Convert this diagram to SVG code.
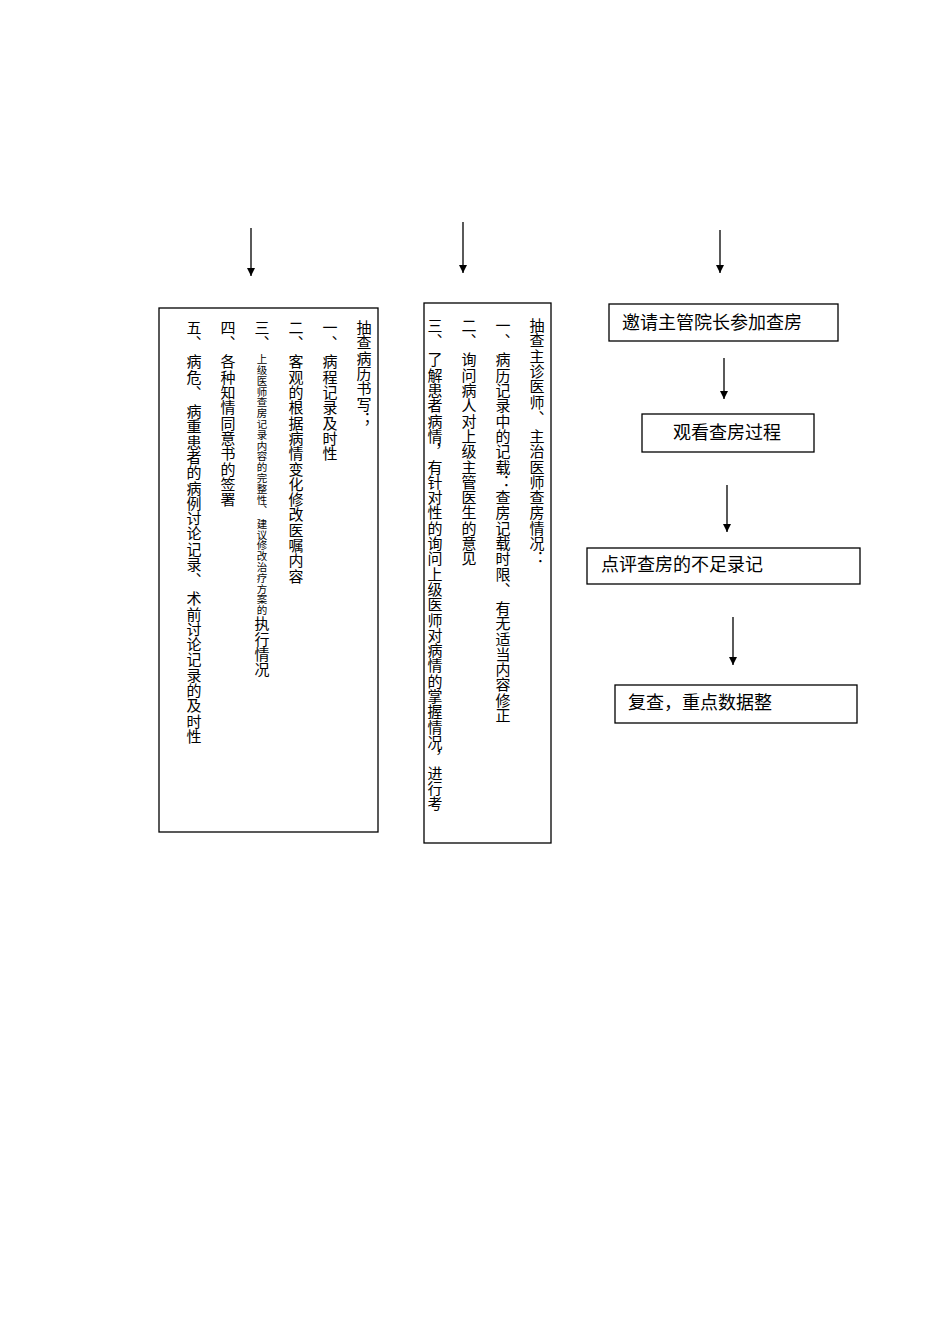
<svg xmlns="http://www.w3.org/2000/svg" width="950" height="1344" viewBox="0 0 950 1344">
<style>
.b{fill:#fff;stroke:#000;stroke-width:1.3}
.v{writing-mode:vertical-rl;font-family:"Noto Sans CJK SC",sans-serif;font-size:15px;fill:#000;letter-spacing:0.3px}
.h{font-family:"Noto Sans CJK SC",sans-serif;font-size:18px;fill:#000}
.c{stroke:#000;stroke-width:1.3;marker-end:url(#a)}
</style>
<defs><marker id="a" viewBox="0 0 10 10" refX="10" refY="5" markerWidth="8" markerHeight="8" markerUnits="userSpaceOnUse" orient="auto"><path d="M0,0L10,5L0,10z" fill="#000"/></marker></defs>
<rect width="950" height="1344" fill="#fff"/>
<g id="connectors">
<line class="c" x1="251" y1="228" x2="251" y2="276"/>
<line class="c" x1="463" y1="222" x2="463" y2="273"/>
<line class="c" x1="720" y1="230" x2="720" y2="273"/>
<line class="c" x1="724" y1="358" x2="724" y2="399"/>
<line class="c" x1="727" y1="485" x2="727" y2="532"/>
<line class="c" x1="733" y1="617" x2="733" y2="665"/>
</g>
<g id="n1">
<rect class="b" x="159" y="308" width="219" height="524"/>
<text class="v" x="364" y="320">抽查病历书写；</text>
<text class="v" x="330" y="320">一、 病程记录及时性</text>
<text class="v" x="296" y="320">二、 客观的根据病情变化修改医嘱内容</text>
<text class="v" x="262" y="320">三、 <tspan style="font-size:10.5px">上级医师查房记录内容的完整性、 建议修改治疗方案的</tspan>执行情况</text>
<text class="v" x="228" y="320">四、 各种知情同意书的签署</text>
<text class="v" x="194" y="320">五、 病危、 病重患者的病例讨论记录、 术前讨论记录的及时性</text>
</g>
<g id="n2">
<rect class="b" x="424" y="303" width="127" height="540"/>
<text class="v" x="537" y="318">抽查主诊医师、 主治医师查房情况：</text>
<text class="v" x="503" y="318">一、 病历记录中的记载：查房记载时限、 有无适当内容修正</text>
<text class="v" x="469" y="318">二、 询问病人对上级主管医生的意见</text>
<text class="v" x="435" y="318">三、 了解患者病情，有针对性的询问上级医师对病情的掌握情况，进行考</text>
</g>
<g id="n3">
<rect class="b" x="609" y="304" width="229" height="37"/>
<text class="h" x="622" y="329">邀请主管院长参加查房</text>
</g>
<g id="n4">
<rect class="b" x="642" y="414" width="172" height="38"/>
<text class="h" x="673" y="439">观看查房过程</text>
</g>
<g id="n5">
<rect class="b" x="587" y="548" width="273" height="36"/>
<text class="h" x="601" y="571">点评查房的不足录记</text>
</g>
<g id="n6">
<rect class="b" x="615" y="685" width="242" height="38"/>
<text class="h" x="628" y="709">复查，重点数据整</text>
</g>
</svg>
